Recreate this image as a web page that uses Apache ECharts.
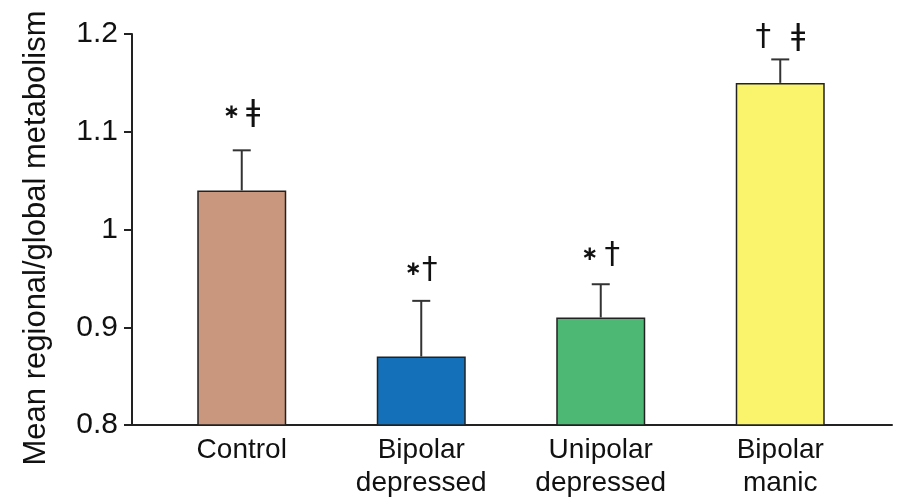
<!DOCTYPE html>
<html><head><meta charset="utf-8">
<script src="https://cdn.jsdelivr.net/npm/echarts@6/dist/echarts.min.js"></script>
<style>html,body{margin:0;padding:0;background:#fff}#c{width:900px;height:501px}</style>
</head><body><div id="c"></div>
<script>
const categories = ['Control', 'Bipolar\ndepressed', 'Unipolar\ndepressed', 'Bipolar\nmanic'];
const means = [1.04, 0.87, 0.91, 1.15];
const errorTops = [1.081, 0.927, 0.944, 1.174];
const barColors = ['#C9977D', '#1470B8', '#4DB874', '#FAF46C'];
const annotations = ['{sw|∗}{d|ǂ}', '{s|∗}{d|†}', '{sw|∗}{d|†}', '{dw|†}{d|ǂ}'];
const annotationY = [1.119, 0.959, 0.974, 1.197];
const yTicks = {min: 0.8, max: 1.2, interval: 0.1};

const FONT = 'Liberation Sans, Arial, Helvetica, sans-serif';
const chart = echarts.init(document.getElementById('c'));
const TOP = 34, BOTTOM = 76;
chart.setOption({
  animation: false,
  grid: [
    {left: 152, right: 30, top: TOP, bottom: BOTTOM},
    {left: 132, right: 8, top: TOP, bottom: BOTTOM}
  ],
  xAxis: [
    {type: 'category', gridIndex: 0, data: categories,
     axisLine: {show: false}, axisTick: {show: false},
     axisLabel: {color: '#111', fontFamily: FONT, fontSize: 28, lineHeight: 33, margin: 9, interval: 0}},
    {type: 'value', gridIndex: 1, min: 0, max: 1,
     axisLine: {show: true, lineStyle: {color: '#222', width: 2}},
     axisTick: {show: false}, axisLabel: {show: false}, splitLine: {show: false}}
  ],
  yAxis: [
    {type: 'value', gridIndex: 0, min: yTicks.min, max: yTicks.max, interval: yTicks.interval,
     offset: 20,
     name: 'Mean regional/global metabolism', nameLocation: 'middle', nameGap: 80,
     nameTextStyle: {color: '#111', fontFamily: FONT, fontSize: 31, padding: [0, 17, 0, 0]},
     axisLine: {show: true, lineStyle: {color: '#222', width: 2}},
     axisTick: {show: true, length: 8, lineStyle: {color: '#222', width: 2}},
     axisLabel: {color: '#111', fontFamily: FONT, fontSize: 30, margin: 14},
     splitLine: {show: false}},
    {type: 'value', gridIndex: 1, min: 0, max: 1, show: false}
  ],
  series: [
    {type: 'bar', xAxisIndex: 0, yAxisIndex: 0, barWidth: 89,
     data: means.map((v, i) => ({value: v, itemStyle: {color: barColors[i]}})),
     itemStyle: {borderColor: '#222', borderWidth: 1.5},
     z: 2},
    {type: 'custom', xAxisIndex: 0, yAxisIndex: 0, z: 3,
     data: means.map((v, i) => [i, v, errorTops[i]]),
     renderItem: function (params, api) {
       const base = api.coord([api.value(0), api.value(1)]);
       const top = api.coord([api.value(0), api.value(2)]);
       const half = 9;
       const style = {stroke: '#333', lineWidth: 2};
       return {type: 'group', children: [
         {type: 'line', shape: {x1: base[0], y1: base[1], x2: top[0], y2: top[1]}, style: style},
         {type: 'line', shape: {x1: top[0] - half, y1: top[1], x2: top[0] + half, y2: top[1]}, style: style}
       ]};
     }},
    {type: 'custom', xAxisIndex: 0, yAxisIndex: 0, z: 4,
     data: annotationY.map((v, i) => [i, v]),
     renderItem: function (params, api) {
       const p = api.coord([api.value(0), api.value(1)]);
       const s = {fontFamily: 'DejaVu Sans', fontSize: 20, fontWeight: 'bold', verticalAlign: 'middle', lineHeight: 32, fill: '#111'};
       const d = {fontFamily: 'DejaVu Sans', fontSize: 31, verticalAlign: 'middle', lineHeight: 32, fill: '#111'};
       return {type: 'text', x: p[0], y: p[1], style: {
         text: annotations[params.dataIndex], fill: '#111',
         align: 'center', verticalAlign: 'middle',
         rich: {
           s: s,
           sw: Object.assign({}, s, {padding: [0, 6, 0, 0]}),
           d: d,
           dw: Object.assign({}, d, {padding: [0, 20, 0, 0]})
         }}};
     }}
  ]
});
</script></body></html>
